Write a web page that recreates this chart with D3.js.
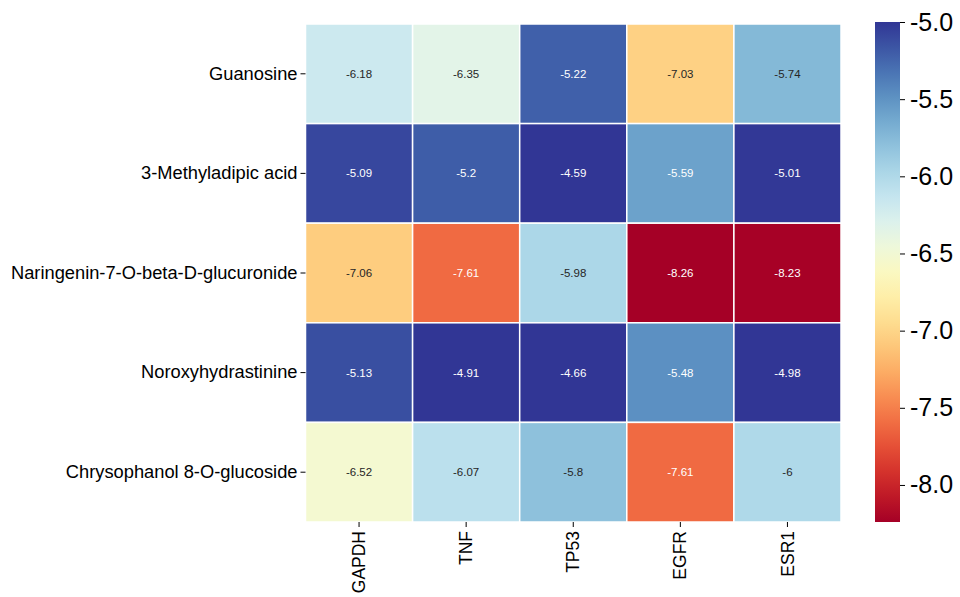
<!DOCTYPE html>
<html>
<head>
<meta charset="utf-8">
<script src="https://cdn.jsdelivr.net/npm/d3@7"></script>
<style>
  body { margin: 0; background: #fff; }
  text { font-family: "Liberation Sans", Arial, sans-serif; }
</style>
</head>
<body>
<script>
const WIDTH = 960;
const HEIGHT = 597;

const compounds = [
    "Guanosine",
    "3-Methyladipic acid",
    "Naringenin-7-O-beta-D-glucuronide",
    "Noroxyhydrastinine",
    "Chrysophanol 8-O-glucoside",
];
const targets = ["GAPDH", "TNF", "TP53", "EGFR", "ESR1"];

const guanosine = [-6.18, -6.35, -5.22, -7.03, -5.74];
const methyladipic = [-5.09, -5.2, -4.59, -5.59, -5.01];
const naringenin = [-7.06, -7.61, -5.98, -8.26, -8.23];
const noroxy = [-5.13, -4.91, -4.66, -5.48, -4.98];
const chrysophanol = [-6.52, -6.07, -5.8, -7.61, -6];

const colorTicks = [-5.0, -5.5, -6.0, -6.5, -7.0, -7.5, -8.0];
const colorMin = -8.24;
const colorMax = -5.0;

const rows = [guanosine, methyladipic, naringenin, noroxy, chrysophanol];

const MARGIN = { top: 24, left: 305.5, right: 119, bottom: 75 };

const svg = d3.select("body")
    .append("svg")
    .attr("width", WIDTH)
    .attr("height", HEIGHT);

const x = d3.scaleBand()
    .domain(targets)
    .range([MARGIN.left, WIDTH - MARGIN.right]);

const y = d3.scaleBand()
    .domain(compounds)
    .range([MARGIN.top, HEIGHT - MARGIN.bottom]);

const color = d3.scaleSequential(d3.interpolateRdYlBu)
    .domain([colorMin, colorMax])
    .clamp(true);

const cells = [];
rows.forEach((vals, i) => {
    vals.forEach((v, j) => {
        cells.push({ row: compounds[i], col: targets[j], value: v });
    });
});

// like seaborn: light text on dark cells
function textColor(v) {
    const c = d3.rgb(color(v));
    const lin = [c.r, c.g, c.b].map(k => {
        k = k / 255;
        return k <= 0.03928 ? k / 12.92 : Math.pow((k + 0.055) / 1.055, 2.4);
    });
    const lum = 0.2126 * lin[0] + 0.7152 * lin[1] + 0.0722 * lin[2];
    return lum > 0.408 ? "#262626" : "#ffffff";
}

const heat = svg.append("g");

heat.selectAll("rect")
    .data(cells)
    .join("rect")
    .attr("x", d => x(d.col))
    .attr("y", d => y(d.row))
    .attr("width", x.bandwidth())
    .attr("height", y.bandwidth())
    .attr("fill", d => color(d.value))
    .attr("stroke", "#fff")
    .attr("stroke-width", 1.5);

heat.selectAll("text")
    .data(cells)
    .join("text")
    .attr("x", d => x(d.col) + x.bandwidth() / 2)
    .attr("y", d => y(d.row) + y.bandwidth() / 2)
    .attr("text-anchor", "middle")
    .attr("dominant-baseline", "central")
    .attr("font-size", 11.5)
    .attr("fill", d => textColor(d.value))
    .text(d => String(d.value));

// row axis
const yAxis = svg.append("g")
    .attr("transform", `translate(${MARGIN.left},0)`)
    .call(d3.axisLeft(y).tickSize(5).tickPadding(3));
yAxis.select(".domain").remove();
yAxis.selectAll("text").attr("font-size", 18.3).attr("fill", "#000")
    .style("font-family", "'Liberation Sans', Arial, sans-serif");
yAxis.selectAll("line").attr("stroke", "#000").attr("stroke-width", 1);

// column axis
const xAxis = svg.append("g")
    .attr("transform", `translate(0,${HEIGHT - MARGIN.bottom})`)
    .call(d3.axisBottom(x).tickSize(5).tickPadding(3));
xAxis.select(".domain").remove();
xAxis.selectAll("text")
    .attr("font-size", 17.5)
    .attr("fill", "#000")
    .style("font-family", "'Liberation Sans', Arial, sans-serif")
    .attr("text-anchor", "end")
    .attr("dy", "0.35em")
    .attr("transform", "translate(0,9) rotate(-90)")
    .attr("x", 0)
    .attr("y", 0);
xAxis.selectAll("line").attr("stroke", "#000").attr("stroke-width", 1);

// colorbar
const cbX = 875;
const cbW = 25;
const cbY = d3.scaleLinear()
    .domain([colorMax, colorMin])
    .range([22, 522]);

const defs = svg.append("defs");
const grad = defs.append("linearGradient")
    .attr("id", "cbgrad")
    .attr("x1", 0).attr("y1", 1)
    .attr("x2", 0).attr("y2", 0);
d3.range(0, 1.0001, 0.05).forEach(t => {
    grad.append("stop")
        .attr("offset", t)
        .attr("stop-color", color(colorMin + t * (colorMax - colorMin)));
});

svg.append("rect")
    .attr("x", cbX)
    .attr("y", cbY(colorMax))
    .attr("width", cbW)
    .attr("height", cbY(colorMin) - cbY(colorMax))
    .attr("fill", "url(#cbgrad)");

const cbAxis = svg.append("g")
    .attr("transform", `translate(${cbX + cbW},0)`)
    .call(d3.axisRight(cbY).tickValues(colorTicks).tickFormat(d3.format(".1f")).tickSize(5).tickPadding(5));
cbAxis.select(".domain").remove();
cbAxis.selectAll("text")
    .attr("font-size", 25)
    .attr("fill", "#000")
    .style("font-family", "'Liberation Sans', Arial, sans-serif")
    .text(d => d3.format(".1f")(d).replace("−", "-"));
cbAxis.selectAll("line").attr("stroke", "#000").attr("stroke-width", 1);
</script>
</body>
</html>
